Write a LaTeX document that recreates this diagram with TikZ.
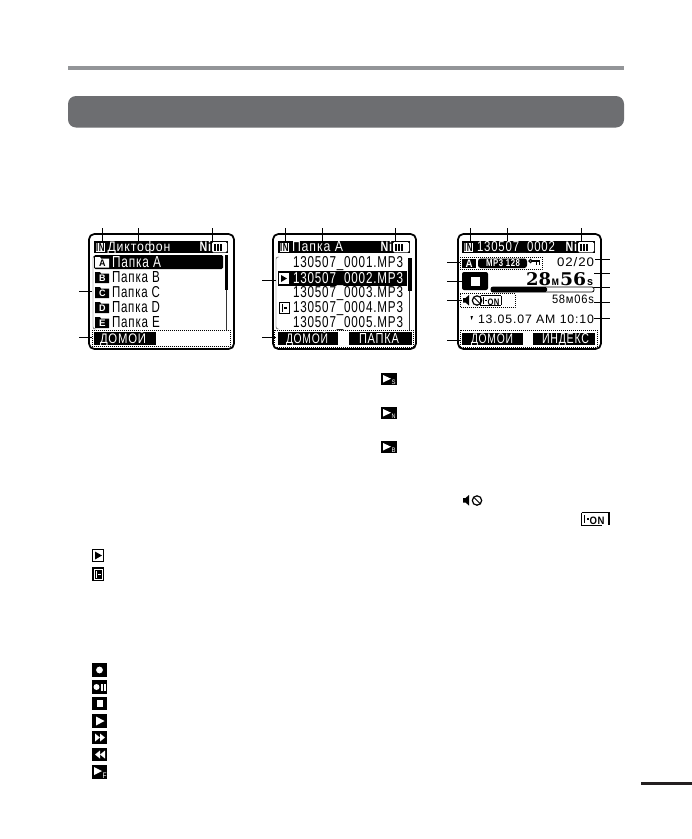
\documentclass[tikz,border=0pt]{standalone}
\usepackage{fontspec}
\usepackage{graphicx}
\setmainfont[LetterSpace=7]{Liberation Sans}
\newfontfamily\bigdig{DejaVu Serif}
\newdimen\pxu \pxu=.75pt
% name, x, baseline y, width, height, colour, text
\newcommand\lcdt[7]{\node[lcdnode,text=#6] (#1) at (#2,#3) {\resizebox{#4\pxu}{#5\pxu}{#7}};}
% leader: name, x1,y1,x2,y2
\newcommand\leadln[5]{\coordinate (#1a) at (#2,#3);\coordinate (#1b) at (#4,#5);\draw[leaderln] (#1a) -- (#1b);}
% header band: x1, x2, title x, title w, title text, Ni x
\newcommand\hdr[7]{%
 \fill (#1,241) rectangle (#2,253);
 \fill[white] (#1+.5,241.8) rectangle (#1+12,252.5);
 \draw[line width=.7pt] (#1+1,242.5) rectangle (#1+11.5,252);
 \lcdt{#7in}{#1+2}{251}{8.5}{8}{black}{\bfseries IN}
 \lcdt{#7ti}{#3}{251.5}{#4}{10}{white}{#5}
 \lcdt{#7ni}{#6-1.5}{251.5}{11.5}{10}{white}{\bfseries Ni}
 \fill[white,rounded corners=1pt] (#6+11,242) rectangle (#2-1,252.3);
 \fill (#6+12.8,243.8) rectangle (#6+15,250.5);
 \fill (#6+16,243.8) rectangle (#6+18.2,250.5);
 \fill (#6+19.2,243.8) rectangle (#6+21.4,250.5);
}
% black icon: x, y, w, h
\newcommand\bicon[4]{\fill (#1,#2) rectangle (#1+#3,#2+#4);}
\newcommand\playtri[2]{\fill[white] (#1+2,#2+2.5) -- (#1+2,#2+10) -- (#1+10,#2+6.2) -- cycle;}
% speaker with crossed clock: x,y (top left)
\newcommand\spk[2]{%
 \fill (#1,#2+3.5) -- (#1+2.5,#2+3.5) -- (#1+6,#2+.5) -- (#1+6,#2+11) -- (#1+2.5,#2+8) -- (#1,#2+8) -- cycle;
 \draw[line width=.9pt] (#1+14,#2+6) circle[radius=4.7];
 \draw[line width=.7pt] (#1+11,#2+3) -- (#1+17,#2+9);
}
\tikzset{
 x=.75pt,y=-.75pt,
 lcdnode/.style={anchor=base west,inner sep=0pt,outer sep=0pt},
 leaderln/.style={line width=.55pt,black},
 screenbox/.style={draw=black,line width=1.3pt,rounded corners=4pt},
 dotbox/.style={draw=black,line width=.5pt,densely dotted},
 thinln/.style={line width=.35pt,black!80},
}
\definecolor{rulegray}{HTML}{939598}
\definecolor{bargray}{HTML}{6D6E71}
\definecolor{markgray}{HTML}{231F20}
\begin{document}
\begin{tikzpicture}
\useasboundingbox (0,0) rectangle (692,839);
\fill[white] (0,0) rectangle (692,839);
\fill[rulegray] (68,66) rectangle (624,70);
\fill[bargray,rounded corners=6pt] (68,96) rectangle (624,127.5);
\fill[markgray] (641,782) rectangle (692,785);

%% ---------- screen 1
\draw[screenbox] (89,234) rectangle (234,349);
\hdr{94}{228}{107.5}{63}{Диктофон}{201}{sa}
\draw[thinln,rounded corners=1.5pt] (96,256) -- (93,256) -- (93,329) -- (96,329);
\fill[rounded corners=1pt] (94,255) rectangle (223,269);
\fill (225,255) rectangle (228,290);
\draw[thinln] (226.5,290) -- (226.5,330);
\fill[white] (95,257) -- (100,257) -- (101,258.5) -- (109,258.5) -- (109,267.5) -- (95,267.5) -- cycle;
\foreach \yy in {272,287,302,317}{\fill (95,\yy) -- (100,\yy) -- (101,\yy+1.5) -- (109,\yy+1.5) -- (109,\yy+11) -- (95,\yy+11) -- cycle;}
\lcdt{fa}{99}{266.5}{6.5}{6.5}{black}{\bfseries A}
\lcdt{fb}{99}{281.5}{6.5}{6.5}{white}{\bfseries B}
\lcdt{fc}{99}{296.5}{6.5}{6.5}{white}{\bfseries C}
\lcdt{fd}{99}{311.5}{6.5}{6.5}{white}{\bfseries D}
\lcdt{fe}{99}{326.5}{6.5}{6.5}{white}{\bfseries E}
\lcdt{ra}{112}{267}{49}{11}{white}{Папка A}
\lcdt{rb}{112}{282}{48}{11}{black}{Папка B}
\lcdt{rc}{112}{297}{48}{11}{black}{Папка C}
\lcdt{rd}{112}{312}{48}{11}{black}{Папка D}
\lcdt{re}{112}{327}{48}{11}{black}{Папка E}
\draw[dotbox] (92,330) rectangle (230,346.5);
\fill (94,332) rectangle (156,344.5);
\lcdt{b1}{100}{343}{46}{12.5}{white}{ДОМОЙ}
\leadln{s1t1}{102}{228}{102}{241}
\leadln{s1t2}{138}{228}{138}{241}
\leadln{s1t3}{212}{228}{212}{241}
\leadln{s1l1}{79}{291}{92}{291}
\leadln{s1l2}{79}{337}{92}{337}

%% ---------- screen 2
\draw[screenbox] (273,234) rectangle (416,349);
\hdr{278}{410}{292}{51}{Папка A}{382}{sb}
\draw[thinln,rounded corners=1.5pt] (279,257) -- (276,257) -- (276,329) -- (279,329);
\fill (278,271) rectangle (407,286);
\fill (408,258) rectangle (412,291);
\draw[thinln] (409.5,291) -- (409.5,330);
\lcdt{f1}{293}{267}{110}{11}{black}{130507\_0001.MP3}
\lcdt{f2}{293}{283.5}{110}{11}{white}{130507\_0002.MP3}
\lcdt{f3}{293}{297.5}{110}{11}{black}{130507\_0003.MP3}
\lcdt{f4}{293}{312}{110}{11}{black}{130507\_0004.MP3}
\lcdt{f5}{293}{327}{110}{11}{black}{130507\_0005.MP3}
\fill[white] (279,273) rectangle (289,284);
\fill (281,275) -- (281,282) -- (287,278.5) -- cycle;
\draw[line width=.5pt] (279.5,302.5) rectangle (289,313);
\fill (281.5,304) rectangle (283,311.5);
\fill (284,307) rectangle (287,308.5);
\draw[dotbox] (274,330) rectangle (413,347);
\fill (278,332) rectangle (338,344.5);
\fill (349,332) rectangle (412,344.5);
\lcdt{b2}{286}{343}{42}{12.5}{white}{ДОМОЙ}
\lcdt{b3}{359}{343}{40}{10}{white}{ПАПКА}
\leadln{s2t1}{285}{228}{285}{241}
\leadln{s2t2}{322}{228}{322}{241}
\leadln{s2t3}{395}{228}{395}{241}
\leadln{s2l1}{262}{280}{276}{280}
\leadln{s2l2}{262}{337}{276}{337}

%% ---------- screen 3
\draw[screenbox] (458,234) rectangle (601,349);
\hdr{462}{595}{477}{78}{130507\_0002}{567}{sc}
\draw[dotbox] (460,257) rectangle (542,269.5);
\fill (462,258.5) rectangle (476,268);
\lcdt{ca}{465.5}{267}{7}{7.5}{white}{\bfseries A}
\fill[rounded corners=2pt] (478,258.5) rectangle (527,268);
\lcdt{mp}{486}{266.8}{34}{7}{white}{\bfseries MP3 128}
\draw[line width=.9pt] (530.5,261) circle[radius=1.6];
\draw[line width=.9pt] (532,261) -- (540,261);
\draw[line width=.7pt] (536,261) -- (536,265) (539,261) -- (539,264.5);
\lcdt{cnt}{557}{266.5}{37}{9}{black}{02/20}
\fill[rounded corners=1.5pt] (462,272) rectangle (488,290);
\fill[white] (471,277) rectangle (479.5,285.5);
\lcdt{bt1}{526}{285}{25}{13}{black}{\bigdig\bfseries 28}
\lcdt{bt2}{551.5}{285}{7.5}{6.5}{black}{\bfseries м}
\lcdt{bt3}{560}{285}{26}{13}{black}{\bigdig\bfseries 56}
\lcdt{bt4}{587}{285}{6}{6}{black}{\bfseries s}
\draw[line width=.6pt,rounded corners=1.5pt] (491,287) rectangle (594,292);
\fill[rounded corners=1pt] (491,287) rectangle (547,292);
\draw[dotbox] (460,293.5) rectangle (515,307);
\spk{463}{294.5}
\draw[line width=.6pt] (480.5,295.5) -- (480.5,305.5) -- (501,305.5);
\draw[line width=.6pt] (480.5,295.5) -- (501,295.5);
\fill (482.5,297) rectangle (484,304);
\fill (485,300) rectangle (487,301.3);
\lcdt{on1}{487.5}{305}{12}{6.5}{black}{\bfseries ON}
\fill (500.5,296) rectangle (502,305);
\lcdt{rem}{552}{303}{42}{8.5}{black}{58м06s}
\fill (470.5,316) -- (473,316) -- (471.5,320) -- cycle;
\lcdt{dat}{478}{323}{116}{8.5}{black}{13.05.07 AM 10:10}
\draw[dotbox] (460,330) rectangle (597,347);
\fill (462,332.7) rectangle (523,345);
\fill (533,332.7) rectangle (595,345);
\lcdt{b4}{471}{343.5}{42}{12.5}{white}{ДОМОЙ}
\lcdt{b5}{542}{343.5}{47}{10}{white}{ИНДЕКС}
\leadln{s3t1}{470}{228}{470}{241}
\leadln{s3t2}{507}{228}{507}{241}
\leadln{s3t3}{581}{228}{581}{241}
\leadln{s3l1}{447}{262}{460}{262}
\leadln{s3l2}{447}{281}{462}{281}
\leadln{s3l3}{447}{300}{462}{300}
\leadln{s3l4}{447}{340}{460}{340}
\leadln{s3r1}{595}{259}{610}{259}
\leadln{s3r2}{594}{273}{610}{273}
\leadln{s3r3}{594}{287}{610}{287}
\leadln{s3r4}{594}{302}{610}{302}
\leadln{s3r5}{594}{318}{610}{318}

%% ---------- play-mode icons, upper right
\bicon{381}{373}{16}{12}\playtri{381}{372.5}
\lcdt{im1}{391.5}{384}{4}{4.5}{white}{S}
\bicon{381}{407}{16}{12}\playtri{381}{406.5}
\lcdt{im2}{391.5}{418}{4}{4.5}{white}{N}
\bicon{381}{441}{16}{12}\playtri{381}{440.5}
\lcdt{im3}{391.5}{452}{4}{4.5}{white}{B}

\spk{463}{494.5}
\draw[line width=.7pt] (581.5,512.5) -- (581.5,525.5) -- (602,525.5);
\draw[line width=.6pt] (581.5,512.5) -- (609,512.5);
\fill (583.5,514.5) rectangle (585,523);
\fill (586.5,518) rectangle (589,519.5);
\lcdt{on2}{589.5}{524.5}{15}{7.5}{black}{\bfseries ON}
\fill (608,511.5) rectangle (610,525);

%% ---------- list icons, left
\draw[line width=.9pt] (92.5,549.5) rectangle (103.5,561.5);
\fill (95,551.5) -- (95,559.5) -- (102,555.5) -- cycle;
\fill (92,567) rectangle (104,581);
\draw[white,line width=.7pt] (94,569) rectangle (102,579);
\fill[white] (95.5,570.5) rectangle (97,577.5);
\fill[white] (98.3,573.5) rectangle (100.8,574.8);

%% ---------- status icons, left
\bicon{92}{663}{15}{14}
\fill[white] (99.5,670) circle[radius=3.4];
\bicon{92}{680}{15}{14}
\fill[white] (96.5,687) circle[radius=3];
\fill[white] (101,683.5) rectangle (102.6,690.5);
\fill[white] (104,683.5) rectangle (105.6,690.5);
\bicon{92}{697}{15}{13}
\fill[white] (96.5,700) rectangle (103,706.5);
\bicon{92}{714}{15}{14}
\fill[white] (96,716.5) -- (96,725.5) -- (104.5,721) -- cycle;
\bicon{92}{731}{15}{13}
\fill[white] (95,733.5) -- (95,741.5) -- (100,737.5) -- cycle;
\fill[white] (100,733.5) -- (100,741.5) -- (105,737.5) -- cycle;
\bicon{92}{748}{15}{13}
\fill[white] (100,750.5) -- (100,758.5) -- (95,754.5) -- cycle;
\fill[white] (105,750.5) -- (105,758.5) -- (100,754.5) -- cycle;
\bicon{92}{765}{15}{14}
\fill[white] (94,767) -- (94,775) -- (102,771) -- cycle;
\lcdt{im4}{102.5}{778}{4}{5.5}{white}{F}
\end{tikzpicture}
\end{document}
